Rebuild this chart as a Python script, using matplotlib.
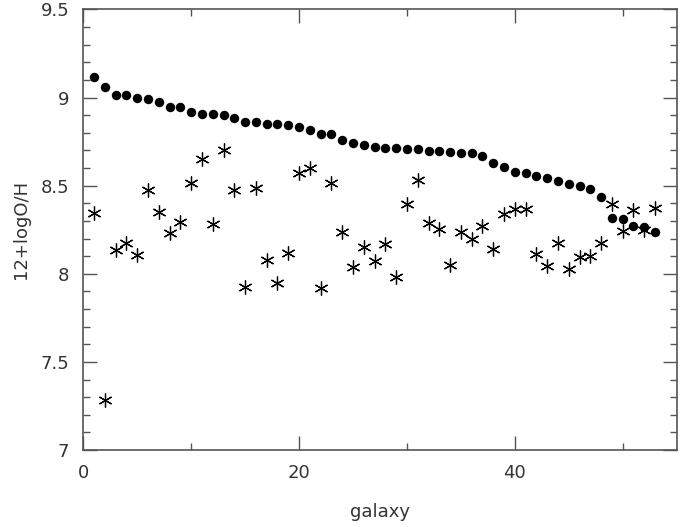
import matplotlib
matplotlib.use("Agg")
import matplotlib.pyplot as plt
from matplotlib.ticker import MultipleLocator, FuncFormatter

## values

galaxy = list(range(1, 54))

# filled circles
oh_circle = [9.118, 9.058, 9.014, 9.014, 8.999, 8.991, 8.976, 8.944, 8.944, 8.917,
             8.906, 8.906, 8.900, 8.887, 8.861, 8.859, 8.851, 8.849, 8.842, 8.834,
             8.815, 8.796, 8.791, 8.759, 8.743, 8.732, 8.719, 8.713, 8.713, 8.708,
             8.708, 8.698, 8.696, 8.689, 8.687, 8.683, 8.666, 8.630, 8.607, 8.575,
             8.570, 8.556, 8.545, 8.526, 8.511, 8.496, 8.481, 8.437, 8.316, 8.312,
             8.271, 8.267, 8.235]

# asterisks
oh_star = [8.343, 7.284, 8.135, 8.177, 8.106, 8.475, 8.350, 8.233, 8.295, 8.513,
           8.649, 8.282, 8.702, 8.475, 7.927, 8.488, 8.078, 7.946, 8.119, 8.573,
           8.602, 7.917, 8.513, 8.239, 8.036, 8.150, 8.074, 8.172, 7.980, 8.396,
           8.535, 8.291, 8.257, 8.050, 8.239, 8.197, 8.271, 8.142, 8.338, 8.367,
           8.367, 8.112, 8.046, 8.176, 8.027, 8.097, 8.101, 8.176, 8.399, 8.243,
           8.365, 8.248, 8.371]

X_LABEL = "galaxy"
Y_LABEL = "12+logO/H"
TEXT_COLOR = "#333333"
AXIS_COLOR = "#555555"

fig = plt.figure(figsize=(6.94, 5.27), dpi=100)
ax = fig.add_axes([0.12, 0.146, 0.855, 0.836])

ax.plot(galaxy, oh_circle, linestyle="none", marker="o", markersize=6.8,
        color="black", markeredgewidth=0)
ax.plot(galaxy, oh_star, linestyle="none", marker=(6, 2, 0), markersize=10,
        color="black", markeredgewidth=0.9)

ax.set_xlim(0, 55)
ax.set_ylim(7, 9.5)
ax.xaxis.set_major_locator(MultipleLocator(20))
ax.xaxis.set_minor_locator(MultipleLocator(10))
ax.yaxis.set_major_locator(MultipleLocator(0.5))
ax.yaxis.set_minor_locator(MultipleLocator(0.1))
ax.yaxis.set_major_formatter(FuncFormatter(lambda v, p: f"{v:g}"))

ax.tick_params(which="both", direction="in", top=True, right=True,
               color=AXIS_COLOR, labelcolor=TEXT_COLOR, labelsize=13, width=1)
ax.tick_params(which="major", length=10, pad=10)
ax.tick_params(which="minor", length=5)
for sp in ax.spines.values():
    sp.set_color(AXIS_COLOR)
    sp.set_linewidth(1.2)

ax.set_xlabel(X_LABEL, fontsize=13, color=TEXT_COLOR, labelpad=15)
ax.set_ylabel(Y_LABEL, fontsize=13, color=TEXT_COLOR, labelpad=8)

fig.savefig("out.png", dpi=100)
